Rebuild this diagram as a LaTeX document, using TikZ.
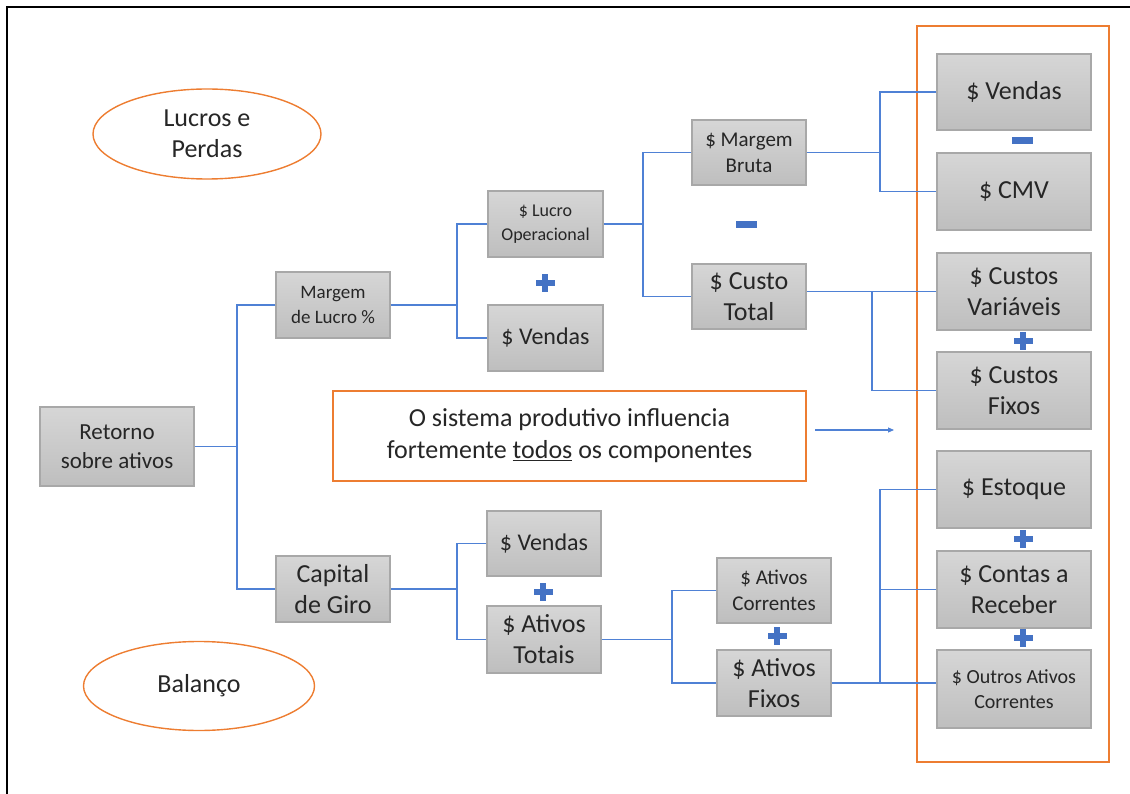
\documentclass[tikz,border=0pt]{standalone}
\usepackage{fontspec}
\setmainfont{Carlito}
\usetikzlibrary{shapes.geometric,arrows.meta}
\definecolor{lineblue}{RGB}{79,129,213}
\definecolor{signblue}{RGB}{68,114,196}
\definecolor{orng}{RGB}{237,125,49}
\definecolor{boxtop}{RGB}{214,214,214}
\definecolor{boxbot}{RGB}{190,190,190}
\definecolor{boxline}{RGB}{168,168,168}
\definecolor{txt}{RGB}{38,38,38}
\tikzset{
  bx/.style={draw=boxline, line width=1.2pt, top color=boxtop, bottom color=boxbot,
    inner sep=0pt, align=center, text=txt, anchor=center},
  conn/.style={draw=lineblue, line width=1.4pt},
  oval/.style={ellipse, draw=orng, line width=1.4pt, inner sep=0pt, align=center, text=txt},
  plussign/.pic={\fill[signblue] (-9.5,-3.2) rectangle (9.5,3.2); \fill[signblue] (-3.2,-9) rectangle (3.2,9);},
  minussign/.pic={\fill[signblue] (-10.5,-3.5) rectangle (10.5,3.5);}
}
\newcommand\fz[2]{\fontsize{#1}{#2}\selectfont}
\begin{document}
\begin{tikzpicture}[x=1pt,y=-1pt]
\useasboundingbox (0,0) rectangle (1130,794);
% frame
\draw[black, line width=2pt] (7,794) -- (7,7) -- (1130,7);
% group rectangle
\node[draw=orng, line width=1.6pt, minimum width=192, minimum height=736, inner sep=0pt] (grp) at (1013,394) {};
% ellipses
\node[oval, minimum width=228, minimum height=90, font=\fz{26}{31}] (lp) at (207,134) {Lucros e\\Perdas};
\node[oval, minimum width=231, minimum height=89, font=\fz{26}{31}] (bal) at (199,686) {Balanço};
% boxes
\node[bx, minimum width=154, minimum height=79, font=\fz{23}{29}] (ret) at (117,446.5) {Retorno\\sobre ativos};
\node[bx, minimum width=114, minimum height=66, font=\fz{19}{25}] (mar) at (333,305) {Margem\\de Lucro \%};
\node[bx, minimum width=114, minimum height=66, font=\fz{26}{31}] (cap) at (333,589) {Capital\\de Giro};
\node[bx, minimum width=115, minimum height=66, font=\fz{18}{24}] (lop) at (545.5,224) {\$ Lucro\\Operacional};
\node[bx, minimum width=115, minimum height=66, font=\fz{24}{29}] (ven1) at (545.5,338) {\$ Vendas};
\node[bx, minimum width=114, minimum height=65, font=\fz{24}{29}] (ven2) at (544,543.5) {\$ Vendas};
\node[bx, minimum width=114, minimum height=67, font=\fz{26}{31}] (tot) at (544,639.5) {\$ Ativos\\Totais};
\node[bx, minimum width=114, minimum height=65, font=\fz{21}{26}] (mb) at (749,152.5) {\$ Margem\\Bruta};
\node[bx, minimum width=114, minimum height=65, font=\fz{26}{31}] (ct) at (749,296.5) {\$ Custo\\Total};
\node[bx, minimum width=114, minimum height=65, font=\fz{21}{26}] (acor) at (774,590.5) {\$ Ativos\\Correntes};
\node[bx, minimum width=114, minimum height=66, font=\fz{26}{31}] (afix) at (774,683) {\$ Ativos\\Fixos};
% right column
\node[bx, minimum width=154, minimum height=76, font=\fz{26}{31}] (rv) at (1014,92) {\$ Vendas};
\node[bx, minimum width=154, minimum height=77, font=\fz{26}{31}] (cmv) at (1014,191.5) {\$ CMV};
\node[bx, minimum width=154, minimum height=77, font=\fz{26}{31}] (cvar) at (1014,291.5) {\$ Custos\\Variáveis};
\node[bx, minimum width=154, minimum height=77, font=\fz{26}{31}] (cfix) at (1014,390.5) {\$ Custos\\Fixos};
\node[bx, minimum width=154, minimum height=77, font=\fz{26}{31}] (est) at (1014,489.5) {\$ Estoque};
\node[bx, minimum width=154, minimum height=77, font=\fz{26}{31}] (cont) at (1014,589.5) {\$ Contas a\\Receber};
\node[bx, minimum width=154, minimum height=78, font=\fz{20}{25}] (outros) at (1014,689) {\$ Outros Ativos\\Correntes};
% note
\node[draw=orng, line width=1.6pt, minimum width=473, minimum height=90, inner sep=0pt, align=center, text=txt, font=\fz{26}{32}] (note) at (569.5,436) {O sistema produtivo influencia\\fortemente \underline{todos} os componentes};
% junctions
\coordinate (j1) at (237,446.5);
\coordinate (j2) at (457,305);
\coordinate (j3) at (643,224);
\coordinate (j4) at (880,152.5);
\coordinate (j5) at (872,291.5);
\coordinate (j6) at (457,589);
\coordinate (j7) at (672,639.5);
\coordinate (j8) at (880,683);
% connectors
\draw[conn] (ret.east) -- (j1);
\draw[conn] (mar.west) -| (j1) |- (cap.west);
\draw[conn] (mar.east) -- (j2);
\draw[conn] (lop.west) -| (j2) |- (ven1.west);
\draw[conn] (lop.east) -- (j3);
\draw[conn] (mb.west) -| (j3) |- (ct.west);
\draw[conn] (mb.east) -- (j4);
\draw[conn] (rv.west) -| (j4) |- (cmv.west);
\draw[conn] (cvar.west) -- (cvar.west -| ct.east);
\draw[conn] (j5) |- (cfix.west);
\draw[conn] (cap.east) -- (j6);
\draw[conn] (ven2.west) -| (j6) |- (tot.west);
\draw[conn] (tot.east) -- (j7);
\draw[conn] (acor.west) -| (j7) |- (afix.west);
\draw[conn] (afix.east) -- (afix.east -| outros.west);
\draw[conn] (est.west) -| (j8);
\draw[conn] (cont.west) -- (cont.west -| j8);
% arrow
\coordinate (aS) at (815,430);
\coordinate (aE) at (894,430);
\draw[draw=lineblue, line width=1.1pt, -{Triangle[length=6pt,width=5pt]}] (aS) -- (aE);
% signs
\pic at (545,283) {plussign};
\pic at (746,225) {minussign};
\pic at (1022,141) {minussign};
\pic at (1023,341) {plussign};
\pic at (543,592) {plussign};
\pic at (777,636) {plussign};
\pic at (1023,539) {plussign};
\pic at (1023,638) {plussign};
\end{tikzpicture}
\end{document}
